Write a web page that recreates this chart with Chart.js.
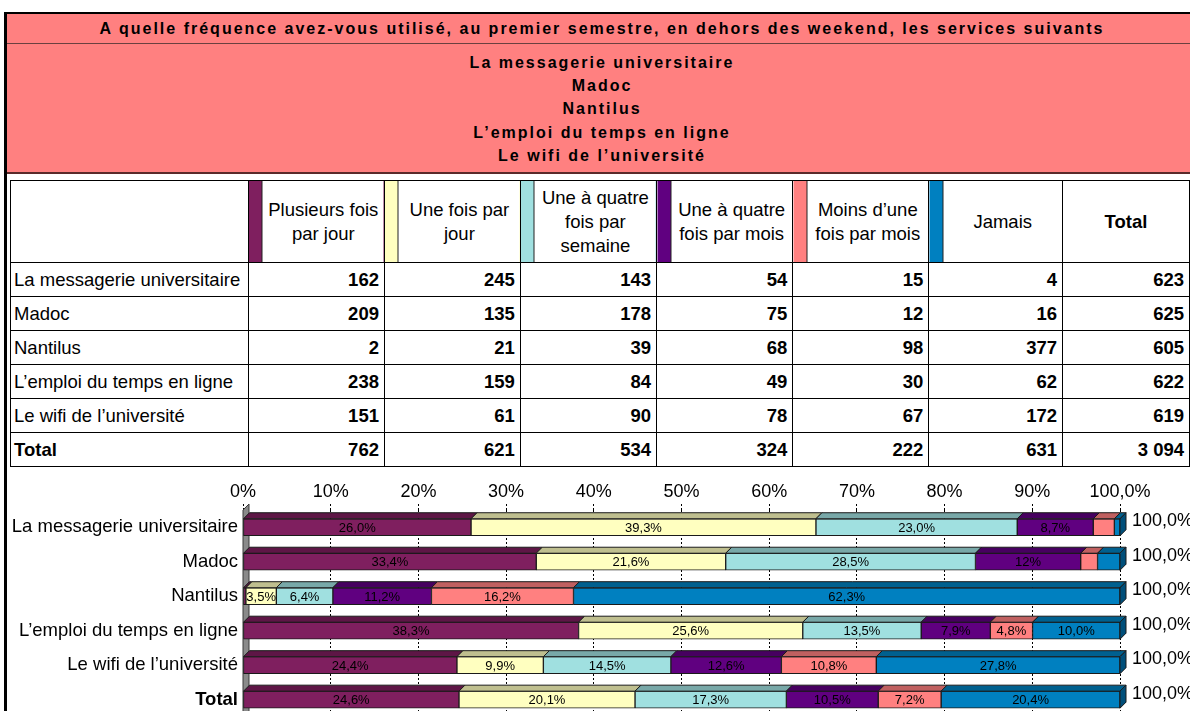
<!DOCTYPE html>
<html lang="fr">
<head>
<meta charset="utf-8">
<script src="https://cdn.jsdelivr.net/npm/chart.js@4.4.0/dist/chart.umd.min.js"></script>
<style>
  body { margin:0; width:1190px; height:711px; overflow:hidden; position:relative; background:#fff;
         font-family:'Liberation Sans', Arial, sans-serif; color:#000; }
  #cadreG { position:absolute; left:4px; top:12px; width:3px; height:700px; background:#000; z-index:5; }
  #cadreH { position:absolute; left:4px; top:12px; width:1190px; height:2px; background:#000; z-index:5; }
  #titre { position:absolute; left:7px; top:14px; width:1190px; height:29px; background:#FF8080;
           border-bottom:1px solid #6a4040; font-weight:bold; font-size:16px; letter-spacing:2px;
           text-align:center; line-height:29px; white-space:nowrap; }
  #services { position:absolute; left:7px; top:44px; width:1190px; height:121px; padding-top:7px; background:#FF8080;
              border-bottom:2px solid #5a2a2a; font-weight:bold; font-size:16px; letter-spacing:2px;
              text-align:center; line-height:23.2px; }
  table { position:absolute; left:10px; top:180px; border-collapse:collapse; table-layout:fixed; }
  td, th { border:1px solid #000; padding:0; font-size:18.5px; white-space:nowrap; overflow:hidden; }
  th { font-weight:normal; line-height:24px; text-align:center; height:81px; }
  th.c { background:linear-gradient(to right, var(--c) 0 13px, #222 13px 14px, #fff 14px); padding-left:14px; }
  td { height:33px; }
  td.lib { text-align:left; padding-left:3px; }
  td.n { text-align:right; padding-right:5px; font-weight:bold; }
  .b { font-weight:bold !important; }
  #graphe { position:absolute; left:0; top:470px; }
</style>
</head>
<body>
<div id="cadreG"></div>
<div id="cadreH"></div>
<div id="titre">A quelle fréquence avez-vous utilisé, au premier semestre, en dehors des weekend, les services suivants</div>
<div id="services"></div>
<table id="tab"></table>
<canvas id="graphe" width="1190" height="263"></canvas>

<script>
// services (lignes) et fréquences (colonnes)
const services = ['La messagerie universitaire', 'Madoc', 'Nantilus', 'L’emploi du temps en ligne', 'Le wifi de l’université'];
const frequences = ['Plusieurs fois par jour', 'Une fois par jour', 'Une à quatre fois par semaine',
                    'Une à quatre fois par mois', 'Moins d’une fois par mois', 'Jamais'];
const enTetes = [['Plusieurs fois', 'par jour'], ['Une fois par', 'jour'], ['Une à quatre', 'fois par', 'semaine'],
                 ['Une à quatre', 'fois par mois'], ['Moins d’une', 'fois par mois'], ['Jamais']];

// effectifs par fréquence (un tableau par colonne)
const plusieursParJour = [162, 209, 2, 238, 151];
const uneParJour       = [245, 135, 21, 159, 61];
const parSemaine       = [143, 178, 39, 84, 90];
const parMois          = [54, 75, 68, 49, 78];
const moinsDuneParMois = [15, 12, 98, 30, 67];
const jamais           = [4, 16, 377, 62, 172];

const totauxLignes   = [623, 625, 605, 622, 619];
const totauxColonnes = [762, 621, 534, 324, 222, 631];
const totalGeneral   = 3094;

const series = [plusieursParJour, uneParJour, parSemaine, parMois, moinsDuneParMois, jamais];

const couleurs = ['#7F1F5F', '#FFFFC0', '#A0E0E0', '#600080', '#FF8080', '#0080C0'];
const couleursDessus = ['#5E1646', '#BFBF8F', '#78A8A8', '#470060', '#C06060', '#00608F'];
const couleurCote = '#004F7A';

const fmtNb = n => String(n).replace(/\B(?=(\d{3})+(?!\d))/g, ' ');
const fmtPct = p => Math.abs(p - Math.round(p)) < 1e-9 ? Math.round(p) + '%' : p.toFixed(1).replace('.', ',') + '%';

// bandeau des services
document.getElementById('services').innerHTML = services.map(s => '<div>' + s + '</div>').join('');

// tableau
let html = '<colgroup><col style="width:238px">' + '<col style="width:137px">'.repeat(6) + '<col style="width:131px"></colgroup>';
html += '<tr><th></th>';
enTetes.forEach((h, j) => {
  html += '<th class="c" style="--c:' + couleurs[j] + '">' + h.join('<br>') + '</th>';
});
html += '<th class="b">Total</th></tr>';
services.forEach((s, i) => {
  html += '<tr><td class="lib">' + s + '</td>';
  series.forEach(ser => { html += '<td class="n">' + fmtNb(ser[i]) + '</td>'; });
  html += '<td class="n">' + fmtNb(totauxLignes[i]) + '</td></tr>';
});
html += '<tr><td class="lib b">Total</td>';
totauxColonnes.forEach(t => { html += '<td class="n">' + fmtNb(t) + '</td>'; });
html += '<td class="n">' + fmtNb(totalGeneral) + '</td></tr>';
document.getElementById('tab').innerHTML = html;

// graphique 100% empilé
const categories = services.concat(['Total']);
const datasets = series.map((ser, j) => ({
  label: frequences[j],
  data: ser.map((v, i) => v / totauxLignes[i] * 100).concat([totauxColonnes[j] / totalGeneral * 100]),
  backgroundColor: couleurs[j],
  borderColor: '#1a1a1a',
  borderWidth: 1,
  borderSkipped: false,
  barThickness: 17
}));

const prof = 6; // profondeur 3D

const relief = {
  id: 'relief',
  beforeDatasetsDraw(chart) {
    const { ctx, chartArea: a } = chart;
    ctx.save();
    ctx.fillStyle = '#8a8a8a';
    ctx.strokeStyle = '#3a3a3a';
    ctx.lineWidth = 1;
    ctx.beginPath();
    ctx.moveTo(a.left, a.top);
    ctx.lineTo(a.left + prof, a.top - prof);
    ctx.lineTo(a.left + prof, a.bottom - prof);
    ctx.lineTo(a.left, a.bottom);
    ctx.closePath();
    ctx.fill();
    ctx.stroke();
    ctx.restore();
  },
  afterDatasetsDraw(chart) {
    const { ctx, chartArea: a } = chart;
    const n = chart.data.datasets.length;
    ctx.save();
    ctx.strokeStyle = '#1a1a1a';
    ctx.lineWidth = 1;
    for (let d = 0; d < n; d++) {
      chart.getDatasetMeta(d).data.forEach(bar => {
        const p = bar.getProps(['x', 'y', 'base', 'height'], true);
        const g = Math.min(p.x, p.base), r = Math.max(p.x, p.base);
        const h = p.y - p.height / 2, b = p.y + p.height / 2;
        ctx.fillStyle = couleursDessus[d];
        ctx.beginPath();
        ctx.moveTo(g, h);
        ctx.lineTo(g + prof, h - prof);
        ctx.lineTo(r + prof, h - prof);
        ctx.lineTo(r, h);
        ctx.closePath();
        ctx.fill();
        ctx.stroke();
        if (d === n - 1) {
          ctx.fillStyle = couleurCote;
          ctx.beginPath();
          ctx.moveTo(r, h);
          ctx.lineTo(r + prof, h - prof);
          ctx.lineTo(r + prof, b - prof);
          ctx.lineTo(r, b);
          ctx.closePath();
          ctx.fill();
          ctx.stroke();
        }
      });
    }
    // étiquettes des segments
    ctx.fillStyle = '#000';
    ctx.font = '13px "Liberation Sans", Arial, sans-serif';
    ctx.textAlign = 'center';
    ctx.textBaseline = 'middle';
    for (let d = 0; d < n; d++) {
      const ds = chart.data.datasets[d];
      chart.getDatasetMeta(d).data.forEach((bar, i) => {
        const v = ds.data[i];
        if (v < 3) return;
        const p = bar.getProps(['x', 'y', 'base'], true);
        ctx.fillText(fmtPct(v), (p.x + p.base) / 2, p.y + 1);
      });
    }
    // total de chaque barre
    ctx.font = '18px "Liberation Sans", Arial, sans-serif';
    ctx.textAlign = 'left';
    chart.getDatasetMeta(n - 1).data.forEach((bar, i) => {
      let s = 0;
      chart.data.datasets.forEach(ds => { s += ds.data[i]; });
      ctx.fillText(s.toFixed(1).replace('.', ',') + '%', a.right + 12, bar.y - 6);
    });
    ctx.restore();
  }
};

Chart.defaults.font.family = '"Liberation Sans", Arial, sans-serif';
Chart.defaults.color = '#000';

new Chart(document.getElementById('graphe'), {
  type: 'bar',
  data: { labels: categories, datasets: datasets },
  options: {
    indexAxis: 'y',
    responsive: false,
    animation: false,
    layout: { padding: { left: 0, right: 70, top: 0, bottom: 3 } },
    plugins: { legend: { display: false }, tooltip: { enabled: false } },
    scales: {
      x: {
        stacked: true,
        position: 'top',
        min: 0,
        max: 100,
        afterFit: s => { s.height = 40; },
        ticks: {
          stepSize: 10,
          padding: 1,
          font: { size: 18 },
          callback: v => v === 100 ? '100,0%' : v + '%'
        },
        grid: { color: '#000', tickLength: 6, tickBorderDash: [2, 2] },
        border: { display: false, dash: [2, 2] }
      },
      y: {
        stacked: true,
        afterFit: s => { s.width = 243; },
        grid: { display: false, drawTicks: false },
        border: { display: false },
        ticks: {
          padding: 5,
          font: ctx => ({ size: 18.5, weight: ctx.index === 5 ? 'bold' : 'normal' })
        }
      }
    }
  },
  plugins: [relief]
});
</script>
</body>
</html>
